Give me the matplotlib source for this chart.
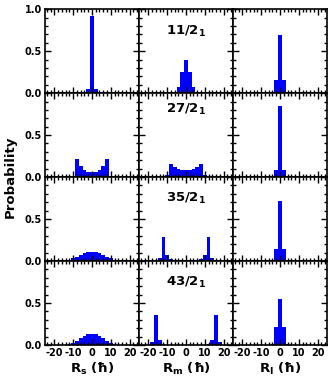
import matplotlib
matplotlib.use('Agg')
import matplotlib.pyplot as plt
from matplotlib.ticker import MultipleLocator

plt.rcParams['font.family'] = ['DejaVu Sans']
plt.rcParams['font.weight'] = 'bold'
plt.rcParams['axes.labelweight'] = 'bold'
plt.rcParams['font.size'] = 7
plt.rcParams['mathtext.default'] = 'bf'
plt.rcParams['axes.unicode_minus'] = False

# Estados (linhas) e rótulos
estados = ['11/2$_1$', '27/2$_1$', '35/2$_1$', '43/2$_1$']
rotulos_x = ['$R_s$ (ħ)', '$R_m$ (ħ)', '$R_I$ (ħ)']
ticks_x = [-20, -10, 0, 10, 20]

# 11/2_1
rs_11_x = [-2, 0, 2]
rs_11_p = [0.045, 0.92, 0.045]
rm_11_x = [-4, -2, 0, 2, 4]
rm_11_p = [0.07, 0.25, 0.39, 0.25, 0.07]
ri_11_x = [-2, 0, 2]
ri_11_p = [0.16, 0.69, 0.16]

# 27/2_1
rs_27_x = [-8, -6, -4, -2, 0, 2, 4, 6, 8]
rs_27_p = [0.22, 0.13, 0.09, 0.06, 0.06, 0.06, 0.09, 0.13, 0.22]
rm_27_x = [-10, -8, -6, -4, -2, 0, 2, 4, 6, 8, 10]
rm_27_p = [0.03, 0.15, 0.12, 0.10, 0.09, 0.08, 0.09, 0.10, 0.12, 0.15, 0.03]
ri_27_x = [-2, 0, 2]
ri_27_p = [0.08, 0.85, 0.08]

# 35/2_1
rs_35_x = [-12, -10, -8, -6, -4, -2, 0, 2, 4, 6, 8, 10, 12]
rs_35_p = [0.015, 0.03, 0.05, 0.07, 0.09, 0.105, 0.11, 0.105, 0.09, 0.07, 0.05, 0.03, 0.015]
rm_35_x = [-14, -12, -10, -8, -6, -4, -2, 0, 2, 4, 6, 8, 10, 12, 14]
rm_35_p = [0.04, 0.29, 0.07, 0.02, 0.01, 0.01, 0.01, 0.01, 0.01, 0.01, 0.01, 0.02, 0.07, 0.29, 0.04]
ri_35_x = [-2, 0, 2]
ri_35_p = [0.14, 0.72, 0.14]

# 43/2_1
rs_43_x = [-14, -12, -10, -8, -6, -4, -2, 0, 2, 4, 6, 8, 10, 12, 14]
rs_43_p = [0.005, 0.01, 0.025, 0.05, 0.08, 0.105, 0.125, 0.13, 0.125, 0.105, 0.08, 0.05, 0.025, 0.01, 0.005]
rm_43_x = [-18, -16, -14, -12, -10, -8, -6, -4, -2, 0, 2, 4, 6, 8, 10, 12, 14, 16, 18]
rm_43_p = [0.04, 0.36, 0.06, 0.01, 0.005, 0.005, 0.005, 0.005, 0.005, 0.005,
           0.005, 0.005, 0.005, 0.005, 0.005, 0.01, 0.06, 0.36, 0.04]
ri_43_x = [-4, -2, 0, 2, 4]
ri_43_p = [0.01, 0.21, 0.55, 0.21, 0.01]

dados = [
    [(rs_11_x, rs_11_p), (rm_11_x, rm_11_p), (ri_11_x, ri_11_p)],
    [(rs_27_x, rs_27_p), (rm_27_x, rm_27_p), (ri_27_x, ri_27_p)],
    [(rs_35_x, rs_35_p), (rm_35_x, rm_35_p), (ri_35_x, ri_35_p)],
    [(rs_43_x, rs_43_p), (rm_43_x, rm_43_p), (ri_43_x, ri_43_p)],
]
pos_texto = [0.74, 0.80, 0.74, 0.74]

fig, axes = plt.subplots(4, 3, figsize=(3.28, 3.82), dpi=100)
fig.subplots_adjust(left=0.137, right=0.997, top=0.976, bottom=0.097,
                    wspace=0, hspace=0)

for i in range(4):
    for j in range(3):
        ax = axes[i, j]
        x, p = dados[i][j]
        ax.bar(x, p, width=2, color='#0000ff', linewidth=0)
        ax.set_xlim(-25, 25)
        ax.set_ylim(0, 1.0)
        ax.xaxis.set_major_locator(MultipleLocator(10))
        ax.xaxis.set_minor_locator(MultipleLocator(2))
        ax.set_yticks([0, 0.5, 1.0])
        ax.yaxis.set_minor_locator(MultipleLocator(0.1))
        ax.set_yticklabels(['0.0', '0.5', '1.0' if i == 0 else ''])
        ax.tick_params(which='both', direction='in', top=True, right=True,
                       width=1, pad=2)
        ax.tick_params(which='major', length=4)
        ax.tick_params(which='minor', length=2.2)
        for s in ax.spines.values():
            s.set_linewidth(1.2)
        if j != 0:
            ax.tick_params(labelleft=False)
        if i != 3:
            ax.tick_params(labelbottom=False)
        else:
            ax.set_xticks(ticks_x)
            ax.set_xticklabels([str(t) for t in ticks_x])
            ax.set_xlabel(rotulos_x[j], fontsize=9.5, fontweight='bold',
                          labelpad=2)
        if j == 1:
            ax.text(0.5, pos_texto[i], estados[i], transform=ax.transAxes,
                    ha='center', va='center', fontsize=9.5, fontweight='bold')

fig.text(0.03, 0.537, 'Probability', rotation=90, ha='center', va='center',
         fontsize=9.5, fontweight='bold')

fig.savefig('out.png', dpi=100)
